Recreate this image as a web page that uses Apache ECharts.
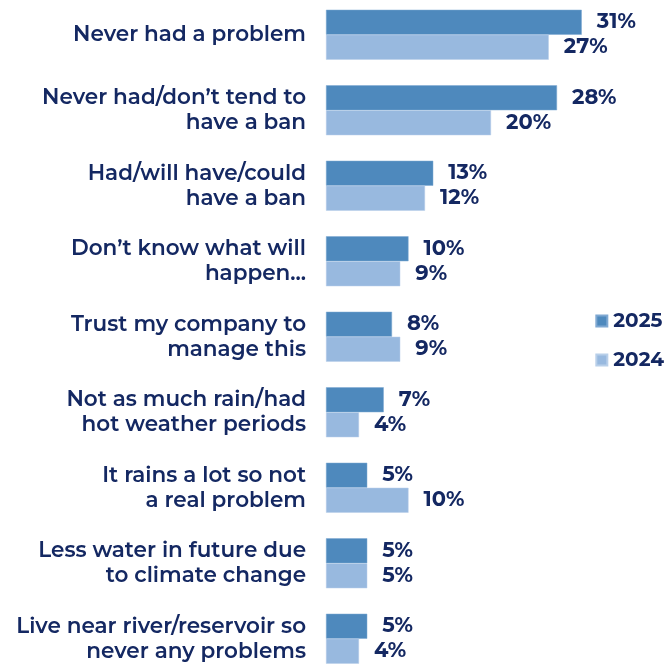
<!DOCTYPE html>
<html>
<head>
<meta charset="utf-8">
<script src="https://cdn.jsdelivr.net/npm/echarts@6/dist/echarts.min.js"></script>
<style>
  html, body { margin: 0; padding: 0; background: #fff; }
  #chart { width: 666px; height: 666px; }
</style>
</head>
<body>
<div id="chart"></div>
<script>
// Reasons given, top to bottom
const categories = [
  'Never had a problem',
  'Never had/don\u2019t tend to\nhave a ban',
  'Had/will have/could\nhave a ban',
  'Don\u2019t know what will\nhappen...',
  'Trust my company to\nmanage this',
  'Not as much rain/had\nhot weather periods',
  'It rains a lot so not\na real problem',
  'Less water in future due\nto climate change',
  'Live near river/reservoir so\nnever any problems'
];
// Share of respondents (%)
const values2025 = [31, 28, 13, 10, 8, 7, 5, 5, 5];
const values2024 = [27, 20, 12, 9, 9, 4, 10, 5, 4];
const seriesNames = ['2025', '2024'];

const navy = '#142862';
const font = 'Montserrat, Inter, sans-serif';

const chart = echarts.init(document.getElementById('chart'));

const labelStyle = {
  show: true,
  position: 'right',
  distance: 15,
  formatter: '{c}%',
  color: navy,
  fontFamily: font,
  fontWeight: 700,
  fontSize: 21
};

chart.setOption({
  animation: false,
  grid: {
    left: 326, right: 10, top: -3, height: 679.5,
    outerBoundsMode: 'none'
  },
  legend: {
    orient: 'vertical',
    right: -3,
    top: 306,
    itemWidth: 11,
    itemHeight: 11,
    itemGap: 19,
    icon: 'rect',
    textStyle: { color: navy, fontFamily: font, fontWeight: 700, fontSize: 20, padding: [0, 0, 0, 1] },
    data: seriesNames
  },
  xAxis: {
    type: 'value',
    min: 0,
    max: 40,
    show: false
  },
  yAxis: {
    type: 'category',
    inverse: true,
    data: categories,
    axisLine: { show: false },
    axisTick: { show: false },
    axisLabel: {
      margin: 20,
      color: navy,
      fontFamily: font,
      fontWeight: 600,
      fontSize: 21.5,
      lineHeight: 25,
      align: 'right'
    }
  },
  series: [
    {
      name: seriesNames[0],
      type: 'bar',
      data: values2025,
      barWidth: 25,
      barGap: '0%',
      itemStyle: { color: '#4e89bd', borderColor: '#7fa8d2', borderWidth: 0.5 },
      label: labelStyle
    },
    {
      name: seriesNames[1],
      type: 'bar',
      data: values2024,
      barWidth: 25,
      itemStyle: { color: '#98b9df', borderColor: '#b8cfe9', borderWidth: 0.5 },
      label: labelStyle
    }
  ]
});
</script>
</body>
</html>
